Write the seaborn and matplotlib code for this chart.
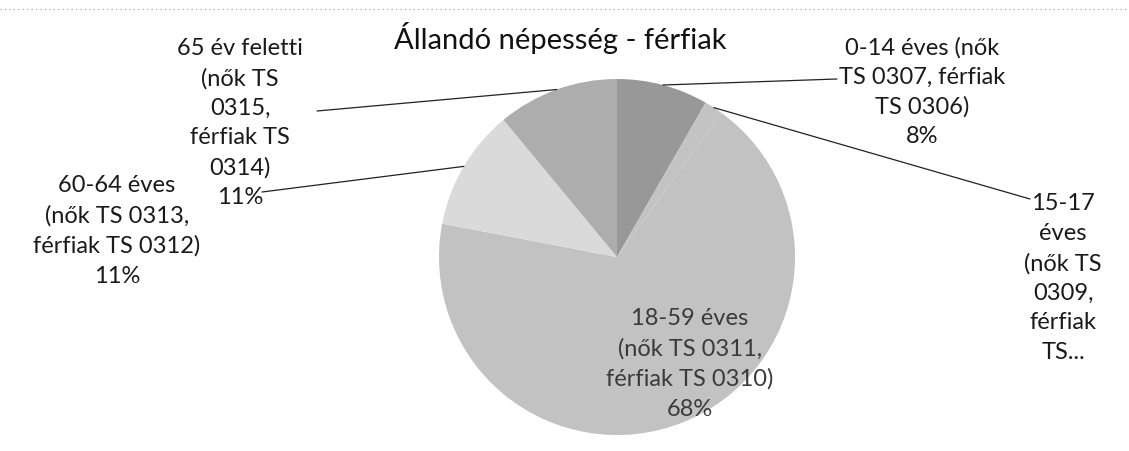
import numpy as np
import matplotlib
matplotlib.use("Agg")
import matplotlib.pyplot as plt
import seaborn as sns

# ----------------- DATA -----------------
TITLE = "Állandó népesség - férfiak"
CATEGORIES = [
    "0-14 éves (nők\nTS 0307, férfiak\nTS 0306)",
    "15-17\néves\n(nők TS\n0309,\nférfiak\nTS...",
    "18-59 éves\n(nők TS 0311,\nférfiak TS 0310)",
    "60-64 éves\n(nők TS 0313,\nférfiak TS 0312)",
    "65 év feletti\n(nők TS\n0315,\nférfiak TS\n0314)",
]
SHARES = [8.3, 1.7, 68.0, 11.0, 11.0]
PCT_TEXT = ["8%", "", "68%", "11%", "11%"]
COLORS = ["#989898", "#c3c3c3", "#c2c2c2", "#dadada", "#adadad"]
# ----------------------------------------

W, H = 1129, 452
sns.set_theme(style="white")
plt.rcParams["font.family"] = ["Lato", "DejaVu Sans"]

fig = plt.figure(figsize=(W / 100, H / 100), dpi=100)
ax = fig.add_axes([0, 0, 1, 1])

# pixel coords (top-left origin) -> data coords
def px(x, y):
    return x, H - y

cx, cy = px(617, 258)
R = 178
wedges, _ = ax.pie(SHARES, colors=COLORS, startangle=90, counterclock=False,
                   center=(cx, cy), radius=R, frame=True,
                   wedgeprops=dict(linewidth=0))
ax.set_xlim(0, W)
ax.set_ylim(0, H)
ax.set_aspect("equal")
ax.axis("off")

def full_label(i):
    return CATEGORIES[i] + ("\n" + PCT_TEXT[i] if PCT_TEXT[i] else "")

# outside labels: (label centre, leader end)
outside = {
    0: ((922, 92), (837, 80)),
    1: ((1063, 278), (1030, 200)),
    3: ((117, 231), (262, 193)),
    4: ((240, 123), (317, 112)),
}
fs = 17
ls = 1.5
for i, ((lx, ly), (ex, ey)) in outside.items():
    ax.text(*px(lx, ly), full_label(i), ha="center", va="center",
            fontsize=fs, color="#1a1a1a", linespacing=ls)
    w = wedges[i]
    ang = np.deg2rad((w.theta1 + w.theta2) / 2)
    sx, sy = cx + R * np.cos(ang), cy + R * np.sin(ang)
    ex, ey = px(ex, ey)
    ax.plot([sx, ex], [sy, ey], color="#222222", lw=0.9)

ax.text(*px(690, 364), full_label(2), ha="center", va="center",
        fontsize=fs, color="#3a3a3a", linespacing=ls)

ax.text(*px(560, 38), TITLE, ha="center", va="center", fontsize=21,
        color="#111111")

ax.plot([0, W], [H - 10, H - 10], color="#9a9a9a", lw=0.8, ls=(0, (1, 3)))

fig.savefig("out.png", dpi=100, facecolor="white")
